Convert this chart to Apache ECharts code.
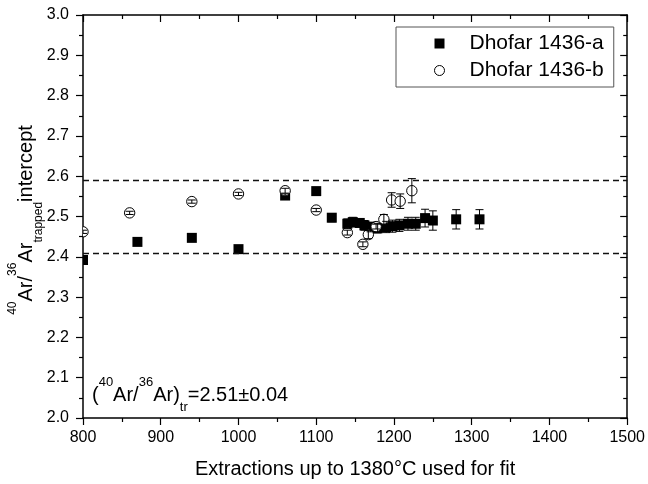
<!DOCTYPE html>
<html>
<head>
<meta charset="utf-8">
<script src="https://cdn.jsdelivr.net/npm/echarts@6/dist/echarts.min.js"></script>
<style>
html,body{margin:0;padding:0;background:#fff;}
#chart{width:648px;height:484px;}
</style>
</head>
<body>
<div id="chart"></div>
<script>
// Dhofar 1436-a (filled squares)
const aX   = [800, 870, 940, 1000, 1060, 1100, 1120, 1140, 1147, 1156, 1162, 1170, 1179, 1190, 1198, 1207, 1218, 1228, 1240, 1250, 1280, 1310];
const aY   = [2.392, 2.437, 2.447, 2.419, 2.552, 2.563, 2.497, 2.482, 2.486, 2.484, 2.478, 2.474, 2.471, 2.474, 2.476, 2.478, 2.482, 2.482, 2.496, 2.490, 2.493, 2.493];
const aErr = [0.003, 0.003, 0.003, 0.003, 0.004, 0.004, 0.010, 0.012, 0.012, 0.010, 0.012, 0.012, 0.012, 0.014, 0.015, 0.015, 0.016, 0.016, 0.022, 0.024, 0.024, 0.024];
// Dhofar 1436-b (open circles)
const bX   = [800, 860, 940, 1000, 1060, 1100, 1140, 1160, 1167, 1177, 1187, 1197, 1208, 1223];
const bY   = [2.462, 2.509, 2.537, 2.556, 2.564, 2.516, 2.460, 2.431, 2.455, 2.475, 2.493, 2.541, 2.538, 2.564];
const bErr = [0.004, 0.004, 0.004, 0.004, 0.006, 0.004, 0.006, 0.006, 0.010, 0.006, 0.012, 0.018, 0.018, 0.030];
// reference lines
const refLines = [2.413, 2.593];
const xTicks = {min: 800, max: 1500, interval: 100};
const yTicks = {min: 2.0, max: 3.0, interval: 0.1};
const seriesNames = ['Dhofar 1436-a', 'Dhofar 1436-b'];

const FONT = '"Liberation Sans", Arial, sans-serif';
const chart = echarts.init(document.getElementById('chart'), null, {renderer: 'canvas'});

function markerItem(shape) {
  return function (params, api) {
    const p = api.coord([api.value(0), api.value(1)]);
    if (shape === 'rect') {
      return {type: 'rect', shape: {x: p[0] - 5, y: p[1] - 5, width: 10, height: 10},
              style: {fill: '#000'}};
    }
    return {type: 'circle', shape: {cx: p[0], cy: p[1], r: 5.2},
            style: {fill: '#fff', stroke: '#000', lineWidth: 1}};
  };
}
function errItem(params, api) {
  const x = api.value(0);
  const p1 = api.coord([x, api.value(1)]);
  const p2 = api.coord([x, api.value(2)]);
  const w = 4;
  const st = {stroke: '#000', lineWidth: 1};
  return {type: 'group', children: [
    {type: 'line', shape: {x1: p1[0], y1: p1[1], x2: p2[0], y2: p2[1]}, style: st},
    {type: 'line', shape: {x1: p1[0] - w, y1: p1[1], x2: p1[0] + w, y2: p1[1]}, style: st},
    {type: 'line', shape: {x1: p2[0] - w, y1: p2[1], x2: p2[0] + w, y2: p2[1]}, style: st}
  ]};
}

const axisLine = {show: true, onZero: false, lineStyle: {color: '#000', width: 1.5}};
const richT = {
  n:   {fontSize: 20, fontFamily: FONT, color: '#000', lineHeight: 38, verticalAlign: 'middle'},
  sup: {fontSize: 13, fontFamily: FONT, color: '#000', lineHeight: 13, verticalAlign: 'top'},
  sub: {fontSize: 13, fontFamily: FONT, color: '#000', lineHeight: 13, verticalAlign: 'bottom'}
};
const richY = {
  n:   {fontSize: 20, fontFamily: FONT, color: '#000', lineHeight: 38, verticalAlign: 'middle'},
  sup: {fontSize: 12, fontFamily: FONT, color: '#000', lineHeight: 12, verticalAlign: 'top'},
  sub: {fontSize: 12, fontFamily: FONT, color: '#000', lineHeight: 12, verticalAlign: 'bottom'}
};

const option = {
  backgroundColor: '#fff',
  animation: false,
  grid: {left: 83, right: 17, top: 15, bottom: 64, containLabel: false},
  legend: {
    orient: 'vertical',
    left: 396, top: 27,
    padding: [6, 10, 6, 38],
    itemWidth: 10, itemHeight: 10, itemGap: 6,
    backgroundColor: '#fff',
    borderColor: '#555', borderWidth: 1,
    formatter: '{t|{name}}',
    textStyle: {fontSize: 21, fontFamily: FONT, color: '#000',
                rich: {t: {fontSize: 21, fontFamily: FONT, color: '#000', padding: [0, 0, 0, 20]}}},
    data: [
      {name: seriesNames[0], icon: 'rect', itemStyle: {color: '#000', borderWidth: 0}},
      {name: seriesNames[1], icon: 'circle', itemStyle: {color: '#fff', borderColor: '#000', borderWidth: 1}}
    ]
  },
  xAxis: [
    {type: 'value', position: 'bottom', min: xTicks.min, max: xTicks.max, interval: xTicks.interval,
     name: 'Extractions up to 1380°C used for fit', nameLocation: 'middle', nameGap: 41,
     nameTextStyle: {fontSize: 20, fontFamily: FONT, color: '#000'},
     axisLine: axisLine,
     axisTick: {show: true, inside: false, length: 7, lineStyle: {color: '#000', width: 1.2}},
     minorTick: {show: true, splitNumber: 2, length: 4, lineStyle: {color: '#000', width: 1.2}},
     axisLabel: {fontSize: 16, fontFamily: FONT, color: '#000', margin: 12,
                 formatter: v => String(v)},
     splitLine: {show: false}},
    {type: 'value', position: 'top', min: xTicks.min, max: xTicks.max, interval: xTicks.interval,
     axisLine: axisLine,
     axisTick: {show: true, inside: true, length: 7, lineStyle: {color: '#000', width: 1.2}},
     minorTick: {show: true, splitNumber: 2, length: 4, lineStyle: {color: '#000', width: 1.2}},
     axisLabel: {show: false}, splitLine: {show: false}}
  ],
  yAxis: [
    {type: 'value', position: 'left', min: yTicks.min, max: yTicks.max, interval: yTicks.interval,
     axisLine: axisLine,
     axisTick: {show: true, inside: false, length: 7, lineStyle: {color: '#000', width: 1.2}},
     minorTick: {show: true, splitNumber: 2, length: 4, lineStyle: {color: '#000', width: 1.2}},
     axisLabel: {fontSize: 16, fontFamily: FONT, color: '#000', margin: 14,
                 formatter: v => v.toFixed(1)},
     splitLine: {show: false}},
    {type: 'value', position: 'right', min: yTicks.min, max: yTicks.max, interval: yTicks.interval,
     axisLine: axisLine,
     axisTick: {show: true, inside: true, length: 7, lineStyle: {color: '#000', width: 1.2}},
     minorTick: {show: true, splitNumber: 2, length: 4, lineStyle: {color: '#000', width: 1.2}},
     axisLabel: {show: false}, splitLine: {show: false}}
  ],
  graphic: [
    {type: 'text', x: 26, y: 220, rotation: Math.PI / 2,
     style: {text: '{sup|40}{n|Ar/}{sup|36}{n|Ar}{sub|trapped}{n|intercept}',
             rich: richY, align: 'center', verticalAlign: 'middle'}},
    {type: 'text', x: 92, y: 395,
     style: {text: '{n|(}{sup|40}{n|Ar/}{sup|36}{n|Ar)}{sub|tr}{n|=2.51±0.04}',
             rich: richT, align: 'left', verticalAlign: 'middle'}}
  ],
  series: [
    {name: 'refLines', type: 'line', data: [], xAxisIndex: 0, yAxisIndex: 0,
     markLine: {silent: true, symbol: 'none', label: {show: false},
                lineStyle: {color: '#111', type: [6, 4], width: 1.3},
                data: refLines.map(v => ({yAxis: v}))}},
    {name: seriesNames[0], type: 'custom', clip: true, z: 3,
     itemStyle: {color: '#000'},
     renderItem: markerItem('rect'),
     data: aX.map((x, i) => [x, aY[i]])},
    {name: seriesNames[1], type: 'custom', clip: true, z: 4,
     itemStyle: {color: '#fff', borderColor: '#000'},
     renderItem: markerItem('circle'),
     data: bX.map((x, i) => [x, bY[i]])},
    {name: 'errA', type: 'custom', clip: true, z: 5, renderItem: errItem,
     data: aX.map((x, i) => [x, aY[i] - aErr[i], aY[i] + aErr[i]])},
    {name: 'errB', type: 'custom', clip: true, z: 5, renderItem: errItem,
     data: bX.map((x, i) => [x, bY[i] - bErr[i], bY[i] + bErr[i]])}
  ]
};
chart.setOption(option);
</script>
</body>
</html>
